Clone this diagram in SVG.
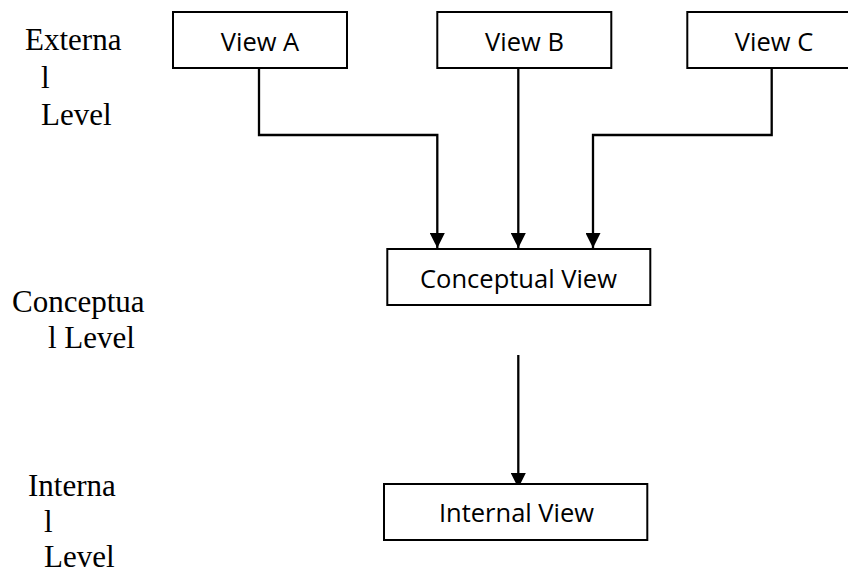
<svg xmlns="http://www.w3.org/2000/svg" width="848" height="574" viewBox="0 0 848 574">
<style>
.box{fill:#fff;stroke:#000;stroke-width:2}
.lbl{font-family:"Open Sans","Liberation Sans",sans-serif;font-size:25.5px;fill:#000;text-anchor:middle}
.lvl{font-family:"Liberation Serif","Times New Roman",serif;font-size:31px;fill:#000}
.con{fill:none;stroke:#000;stroke-width:2.3}
</style>
<defs>
<marker id="arr" viewBox="0 0 15 15" refX="15" refY="7.5" markerWidth="15" markerHeight="15" markerUnits="userSpaceOnUse" orient="auto">
<path d="M0,0 L15,7.5 L0,15 z" fill="#000"/>
</marker>
</defs>
<rect width="848" height="574" fill="#fff"/>
<g id="levels">
<text class="lvl" x="25" y="50">Externa</text>
<text class="lvl" x="41" y="88">l</text>
<text class="lvl" x="41" y="125">Level</text>
<text class="lvl" x="12" y="312">Conceptua</text>
<text class="lvl" x="48" y="348">l Level</text>
<text class="lvl" x="28" y="496">Interna</text>
<text class="lvl" x="44" y="532">l</text>
<text class="lvl" x="44" y="567">Level</text>
</g>
<g id="connectors">
<path class="con" d="M259,68 V135 H437.3 V248" marker-end="url(#arr)"/>
<path class="con" d="M518.3,68 V248" marker-end="url(#arr)"/>
<path class="con" d="M771.7,68 V135 H593 V248" marker-end="url(#arr)"/>
<path class="con" d="M518.3,355 V488" marker-end="url(#arr)"/>
</g>
<g id="viewA">
<rect class="box" x="173" y="12" width="174" height="56"/>
<text class="lbl" x="260" y="51">View A</text>
</g>
<g id="viewB">
<rect class="box" x="437.3" y="12" width="174" height="56"/>
<text class="lbl" x="524.5" y="51">View B</text>
</g>
<g id="viewC">
<rect class="box" x="687.3" y="12" width="174" height="56"/>
<text class="lbl" x="774" y="51">View C</text>
</g>
<g id="conceptual">
<rect class="box" x="387.3" y="249" width="263" height="56"/>
<text class="lbl" x="518.5" y="288">Conceptual View</text>
</g>
<g id="internal">
<rect class="box" x="384" y="484" width="263.3" height="56"/>
<text class="lbl" x="516.5" y="522">Internal View</text>
</g>
</svg>
